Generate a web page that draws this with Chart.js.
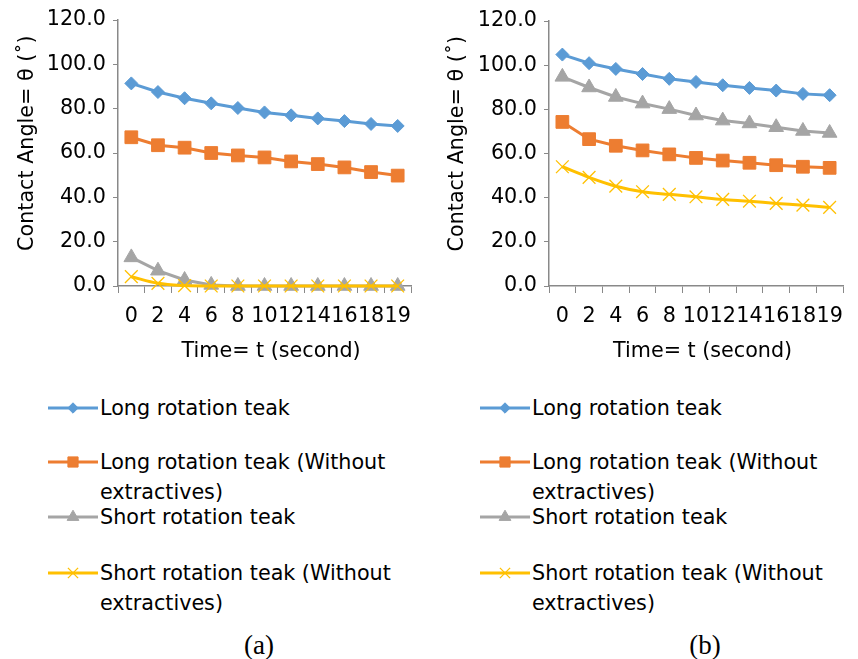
<!DOCTYPE html>
<html>
<head>
<meta charset="utf-8">
<script src="https://cdn.jsdelivr.net/npm/chart.js@4.4.1/dist/chart.umd.min.js"></script>
<style>
  html, body { margin: 0; padding: 0; background: #fff; }
  body { width: 858px; height: 659px; position: relative; overflow: hidden; font-family: 'DejaVu Sans', sans-serif; }
  canvas { position: absolute; }
  .leg { position: absolute; font-size: 20.7px; line-height: 30px; color: #000; white-space: nowrap; }
  .cap { position: absolute; top: 629px; width: 80px; line-height: 32px; text-align: center; font-family: 'Liberation Serif', serif; font-size: 27px; color: #000; }
</style>
</head>
<body>
<canvas id="chartA" width="430" height="370" style="left:0;top:0"></canvas>
<canvas id="chartB" width="428" height="370" style="left:430px;top:0"></canvas>
<div id="legendA"></div>
<div id="legendB"></div>
<div class="cap" style="left:219px">(a)</div>
<div class="cap" style="left:665px">(b)</div>

<script>
// ── Data ────────────────────────────────────────────────────
const timeLabels = ['0','2','4','6','8','10','12','14','16','18','19'];
const yTicks = [0, 20, 40, 60, 80, 100, 120];

// (a)
const longA       = [91.4, 87.5, 84.7, 82.4, 80.3, 78.3, 77.0, 75.6, 74.4, 73.1, 72.2];
const longNoExtA  = [67.1, 63.5, 62.4, 60.0, 58.9, 58.0, 56.2, 55.0, 53.5, 51.4, 49.8];
const shortA      = [12.9, 6.9, 2.7, 0.5, 0, 0, 0, 0, 0, 0, 0];
const shortNoExtA = [4.2, 1.2, 0.2, 0, 0, 0, 0, 0, 0, 0, 0];

// (b)
const longB       = [104.8, 100.9, 98.3, 96.0, 93.8, 92.4, 90.9, 89.7, 88.5, 87.0, 86.4];
const longNoExtB  = [74.3, 66.5, 63.5, 61.4, 59.6, 58.0, 56.8, 55.8, 54.7, 54.0, 53.5];
const shortB      = [94.7, 89.9, 85.6, 82.6, 80.1, 77.2, 74.9, 73.6, 71.9, 70.2, 69.3];
const shortNoExtB = [54.0, 49.2, 45.2, 42.7, 41.5, 40.4, 39.2, 38.4, 37.4, 36.6, 35.6];

const seriesNames = [
  'Long rotation teak',
  'Long rotation teak (Without<br>extractives)',
  'Short rotation teak',
  'Short rotation teak (Without<br>extractives)',
];

// ── Styles ──────────────────────────────────────────────────
const AXIS = '#898989';
const FONT = 'DejaVu Sans';
const FSIZE = 20.7;
const SERIES_STYLE = [
  { color: '#5B9BD5', pointStyle: 'rectRot',  radius: 6.5, bw: 1,   tension: 0 },
  { color: '#ED7D31', pointStyle: 'rect',     radius: 9,   bw: 1,   tension: 0 },
  { color: '#A5A5A5', pointStyle: 'triangle', radius: 8.5, bw: 1,   tension: 0 },
  { color: '#FFC000', pointStyle: 'crossRot', radius: 9,   bw: 1.3, tension: 0.35 },
];

function makeDatasets(seriesList) {
  return seriesList.map((data, i) => {
    const s = SERIES_STYLE[i];
    return {
      label: seriesNames[i].replace('<br>', ' '),
      data,
      borderColor: s.color,
      backgroundColor: s.color,
      borderWidth: 3,
      tension: s.tension,
      pointStyle: s.pointStyle,
      pointRadius: s.radius,
      pointBorderWidth: s.bw,
      pointBackgroundColor: s.color,
      pointBorderColor: s.color,
      order: 3 - i,
      clip: false,
    };
  });
}

// leading no-break spaces nudge the centred axis titles like in the original
const NB = '\u00A0';

function makeChart(id, seriesList, pad, yWidth) {
  return new Chart(document.getElementById(id), {
    type: 'line',
    data: { labels: timeLabels, datasets: makeDatasets(seriesList) },
    options: {
      responsive: false,
      animation: false,
      layout: { padding: pad },
      plugins: { legend: { display: false }, tooltip: { enabled: false } },
      scales: {
        x: {
          offset: true,
          grid: { offset: true, drawOnChartArea: false, drawTicks: true, tickLength: 7, color: AXIS, lineWidth: 1 },
          border: { display: true, color: AXIS, width: 1.5 },
          ticks: { autoSkip: false, maxRotation: 0, padding: 11, color: '#000', font: { family: FONT, size: FSIZE } },
          title: { display: true, text: NB + NB + 'Time= t (second)', color: '#000', font: { family: FONT, size: FSIZE } },
          afterFit: s => { s.height = 82; },
        },
        y: {
          min: 0, max: 120,
          afterBuildTicks: s => { s.ticks = yTicks.map(v => ({ value: v })); },
          grid: { drawOnChartArea: false, drawTicks: true, tickLength: 5, color: AXIS, lineWidth: 1 },
          border: { display: true, color: AXIS, width: 1.5 },
          ticks: { padding: 7, color: '#000', font: { family: FONT, size: FSIZE }, callback: v => Number(v).toFixed(1) },
          title: { display: true, text: NB + NB + NB + 'Contact Angle= θ (˚)', color: '#000', font: { family: FONT, size: FSIZE } },
          afterFit: s => { s.width = yWidth; },
        },
      },
    },
  });
}

makeChart('chartA', [longA, longNoExtA, shortA, shortNoExtA], { left: 11, top: 20, right: 19, bottom: 2 }, 107);
makeChart('chartB', [longB, longNoExtB, shortB, shortNoExtB], { left: 11, top: 21, right: 15, bottom: 2 }, 108);

// ── Legends (HTML, samples drawn with Chart.js point helper) ──
const LEG_ROWS = [408, 462, 517, 573];

function drawSample(cv, s) {
  const ctx = cv.getContext('2d');
  ctx.strokeStyle = s.color;
  ctx.fillStyle = s.color;
  ctx.lineWidth = 3;
  ctx.beginPath();
  ctx.moveTo(0, 10);
  ctx.lineTo(cv.width, 10);
  ctx.stroke();
  const opts = { pointStyle: s.pointStyle, radius: s.radius * 0.8, rotation: 0, borderWidth: s.bw };
  ctx.lineWidth = s.bw;
  if (Chart.helpers && Chart.helpers.drawPoint) {
    Chart.helpers.drawPoint(ctx, opts, cv.width / 2, 10);
  }
}

function buildLegend(elId, x0) {
  const el = document.getElementById(elId);
  seriesNames.forEach((name, i) => {
    const cy = LEG_ROWS[i];
    const cv = document.createElement('canvas');
    cv.width = 50; cv.height = 20;
    cv.style.left = x0 + 'px';
    cv.style.top = (cy - 10) + 'px';
    el.appendChild(cv);
    drawSample(cv, SERIES_STYLE[i]);
    const t = document.createElement('div');
    t.className = 'leg';
    t.style.left = (x0 + 52) + 'px';
    t.style.top = (cy - 15) + 'px';
    t.innerHTML = name;
    el.appendChild(t);
  });
}

buildLegend('legendA', 48);
buildLegend('legendB', 480);
</script>
</body>
</html>
